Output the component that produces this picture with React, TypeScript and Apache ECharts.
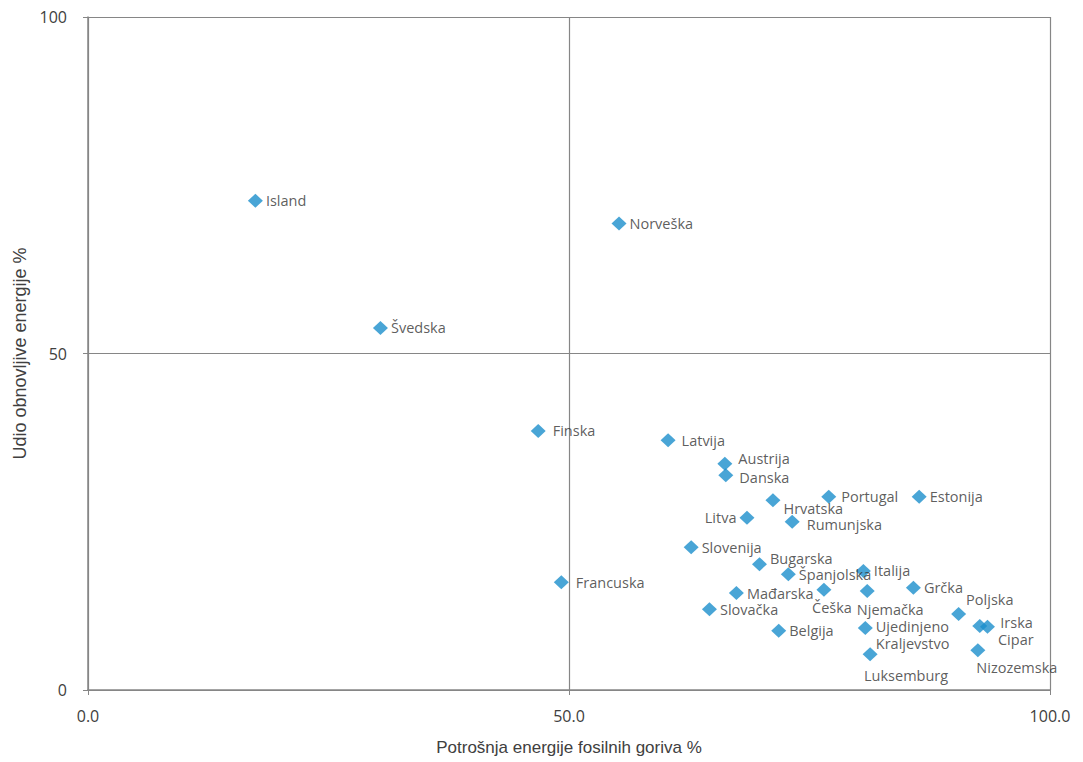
import React, { useEffect, useRef } from "react";
import * as echarts from "echarts";

const countries = [
  "Island", "Norveška", "Švedska", "Finska", "Latvija", "Austrija", "Danska",
  "Portugal", "Estonija", "Hrvatska", "Litva", "Rumunjska", "Slovenija",
  "Bugarska", "Španjolska", "Italija", "Francuska", "Češka", "Njemačka",
  "Grčka", "Mađarska", "Slovačka", "Poljska", "Irska", "Cipar", "Belgija",
  "Ujedinjeno\nKraljevstvo", "Luksemburg", "Nizozemska",
];
const fossilShare = [
  17.4, 55.2, 30.4, 46.8, 60.3, 66.2, 66.3,
  77.0, 86.4, 71.2, 68.5, 73.2, 62.7,
  69.8, 72.8, 80.6, 49.2, 76.5, 81.0,
  85.8, 67.4, 64.6, 90.5, 92.7, 93.5, 71.8,
  80.8, 81.3, 92.5,
];
const renewableShare = [
  72.7, 69.3, 53.8, 38.5, 37.1, 33.6, 31.9,
  28.7, 28.7, 28.2, 25.6, 25.0, 21.2,
  18.7, 17.2, 17.7, 16.0, 14.9, 14.7,
  15.2, 14.4, 12.0, 11.3, 9.5, 9.4, 8.8,
  9.2, 5.3, 5.9,
];
const xTicks = [0, 50, 100];
const yTicks = [0, 50, 100];

// label placement (style only)
const labelPlacement: Record<string, { position: string; offset: number[]; lineHeight?: number }> = {
  "Finska": { position: "right", offset: [4, 0] },
  "Latvija": { position: "right", offset: [3, 0] },
  "Austrija": { position: "right", offset: [3, -5] },
  "Danska": { position: "right", offset: [3, 2] },
  "Portugal": { position: "right", offset: [2, 0] },
  "Hrvatska": { position: "right", offset: [0, 8] },
  "Litva": { position: "left", offset: [0, 0] },
  "Rumunjska": { position: "right", offset: [4, 3] },
  "Bugarska": { position: "right", offset: [0, -6] },
  "Francuska": { position: "right", offset: [4, 0] },
  "Češka": { position: "bottom", offset: [8, 0] },
  "Njemačka": { position: "bottom", offset: [23, 0] },
  "Poljska": { position: "right", offset: [-3, -14] },
  "Irska": { position: "right", offset: [10, -4] },
  "Cipar": { position: "right", offset: [0, 13] },
  "Ujedinjeno\nKraljevstvo": { position: "right", offset: [0, 7], lineHeight: 17 },
  "Luksemburg": { position: "bottom", offset: [36, 3] },
  "Nizozemska": { position: "bottom", offset: [39, -1] },
};

export default function App() {
  const ref = useRef<HTMLDivElement>(null);
  useEffect(() => {
    if (!ref.current) return;
    const chart = echarts.init(ref.current, null, { renderer: "svg" });
    const data = countries.map((c, i) => {
      const p = labelPlacement[c];
      const item: any = { name: c, value: [fossilShare[i], renewableShare[i]] };
      if (p) {
        item.label = { position: p.position, offset: p.offset };
        if (p.lineHeight) item.label.lineHeight = p.lineHeight;
      }
      return item;
    });
    const axisColor = "#868686";
    chart.setOption({
      animation: false,
      backgroundColor: "#ffffff",
      grid: { left: 88, right: 33, top: 17, bottom: 72, containLabel: false },
      xAxis: {
        type: "value",
        min: xTicks[0],
        max: xTicks[xTicks.length - 1],
        interval: 50,
        name: "Potrošnja energije fosilnih goriva %",
        nameLocation: "middle",
        nameGap: 49,
        nameTextStyle: { fontFamily: "Liberation Sans", fontSize: 17, color: "#404040" },
        axisLine: { show: true, onZero: false, lineStyle: { color: axisColor, width: 1.5 } },
        axisTick: { show: true, length: 5, lineStyle: { color: axisColor } },
        axisLabel: {
          margin: 18,
          fontFamily: "Open Sans",
          fontSize: 16,
          color: "#404040",
          formatter: (v: number) => v.toFixed(1),
        },
        splitLine: { show: true, lineStyle: { color: axisColor, width: 1.2 } },
      },
      yAxis: {
        type: "value",
        min: yTicks[0],
        max: yTicks[yTicks.length - 1],
        interval: 50,
        name: "Udio obnovljive energije %",
        nameLocation: "middle",
        nameGap: 58,
        nameTextStyle: { fontFamily: "Liberation Sans", fontSize: 18, color: "#404040" },
        axisLine: { show: true, onZero: false, lineStyle: { color: axisColor, width: 1.5 } },
        axisTick: { show: true, length: 5, lineStyle: { color: axisColor } },
        axisLabel: {
          margin: 21,
          fontFamily: "Open Sans",
          fontSize: 16,
          color: "#404040",
        },
        splitLine: { show: true, lineStyle: { color: axisColor, width: 1.2 } },
      },
      series: [
        {
          type: "scatter",
          symbol: "diamond",
          symbolSize: [15, 14],
          itemStyle: { color: "#1b8fcc" },
          label: {
            show: true,
            position: "right",
            distance: 3,
            formatter: (p: any) => p.name,
            fontFamily: "Open Sans",
            fontSize: 14.5,
            color: "#333333",
            lineHeight: 16,
          },
          data,
        },
      ],
    });
    return () => chart.dispose();
  }, []);
  return (
    <div
      ref={ref}
      style={{ position: "absolute", left: 0, top: 0, width: 1083, height: 762 }}
    />
  );
}
